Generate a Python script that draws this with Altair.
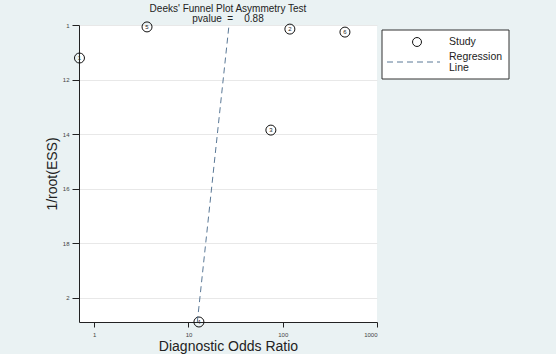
import altair as alt
import pandas as pd

# Study data (diagnostic odds ratio, 1/sqrt(ESS))
study_ids = ["1", "5", "2", "6", "3", "4"]
dor = [0.697, 3.63, 119.0, 457.0, 74.8, 12.9]
inv_root_ess = [0.1121, 0.1007, 0.1015, 0.1026, 0.1385, 0.2088]

# Regression line endpoints
reg_x = [12.4, 26.9]
reg_y = [0.2088, 0.1]

x_ticks = [1, 10, 100, 1000]
y_ticks = [0.1, 0.12, 0.14, 0.16, 0.18, 0.2]

title_lines = ["Deeks' Funnel Plot Asymmetry Test",
               "pvalue\u00a0\u00a0=\u00a0\u00a0\u00a0 0.88"]
legend_labels = ["Study", "Regression", "Line"]

FONT = "Liberation Sans"

pts = pd.DataFrame({"dor": dor, "ess": inv_root_ess, "id": study_ids})
reg = pd.DataFrame({"dor": reg_x, "ess": reg_y})

xscale = alt.Scale(type="log", domain=[0.689, 1000], nice=False)
yscale = alt.Scale(domain=[0.1, 0.2088], reverse=True, nice=False, zero=False)

xaxis = alt.Axis(values=x_ticks, labelExpr="format(datum.value, 'd')", title="Diagnostic Odds Ratio",
                 grid=False, tickSize=5, labelFontSize=6, labelColor="#444",
                 titleFontSize=14, titleFontWeight="normal", titleColor="#222",
                 domainColor="#222", tickColor="#222", labelPadding=4, titlePadding=2,
                 labelFont=FONT, titleFont=FONT)
yaxis = alt.Axis(values=y_ticks, labelExpr="replace(format(datum.value, '.2~f'), '0.', '')",
                 title="1/root(ESS)", grid=True, gridColor="#e8e8e8",
                 tickSize=7, labelFontSize=6, labelColor="#444",
                 titleFontSize=14, titleFontWeight="normal", titleColor="#222",
                 domainColor="#222", tickColor="#222", labelPadding=3, titlePadding=3,
                 labelFont=FONT, titleFont=FONT)

base_pts = alt.Chart(pts)

points = base_pts.mark_point(shape="circle", size=100, filled=False, color="#111",
                             strokeWidth=1, opacity=1).encode(
    x=alt.X("dor:Q", scale=xscale, axis=xaxis),
    y=alt.Y("ess:Q", scale=yscale, axis=yaxis),
)

labels = base_pts.mark_text(fontSize=6, color="#222", font=FONT).encode(
    x=alt.X("dor:Q", scale=xscale),
    y=alt.Y("ess:Q", scale=yscale),
    text="id:N",
)

regline = alt.Chart(reg).mark_line(strokeDash=[6, 4], color="#5a7896", strokeWidth=1).encode(
    x=alt.X("dor:Q", scale=xscale),
    y=alt.Y("ess:Q", scale=yscale),
)

one = alt.Data(values=[{"a": 1}])

leg_box = alt.Chart(one).mark_rect(fill="white", stroke="#333", strokeWidth=1).encode(
    x=alt.value(303), x2=alt.value(430), y=alt.value(5), y2=alt.value(54))
leg_circle = alt.Chart(one).mark_point(shape="circle", size=80, filled=False,
                                       color="#111", strokeWidth=1, opacity=1).encode(
    x=alt.value(338), y=alt.value(17))
leg_line = alt.Chart(one).mark_rule(strokeDash=[6, 4], color="#5a7896", strokeWidth=1).encode(
    x=alt.value(308), x2=alt.value(361), y=alt.value(37))
leg_t1 = alt.Chart(one).mark_text(text=legend_labels[0], align="left", baseline="middle",
                                  fontSize=10.5, font=FONT, color="#222").encode(
    x=alt.value(370), y=alt.value(17))
leg_t2 = alt.Chart(one).mark_text(text=legend_labels[1], align="left", baseline="middle",
                                  fontSize=10.5, font=FONT, color="#222").encode(
    x=alt.value(370), y=alt.value(32))
leg_t3 = alt.Chart(one).mark_text(text=legend_labels[2], align="left", baseline="middle",
                                  fontSize=10.5, font=FONT, color="#222").encode(
    x=alt.value(370), y=alt.value(43))

chart = alt.layer(points, labels, regline, leg_box, leg_circle, leg_line,
                  leg_t1, leg_t2, leg_t3).properties(
    width=298, height=297,
    title=alt.TitleParams(text=title_lines, fontSize=10, font=FONT, fontWeight="normal",
                          color="#222", anchor="middle", offset=2, lineHeight=10, dy=6),
    autosize=alt.AutoSizeParams(type="none"),
    padding={"left": 79, "top": 25, "right": 179, "bottom": 32},
    background="#eaf2f3",
).configure_view(fill="white", stroke=None, strokeWidth=0)

chart.save("out.html", embed_options={"renderer": "svg", "actions": False})
